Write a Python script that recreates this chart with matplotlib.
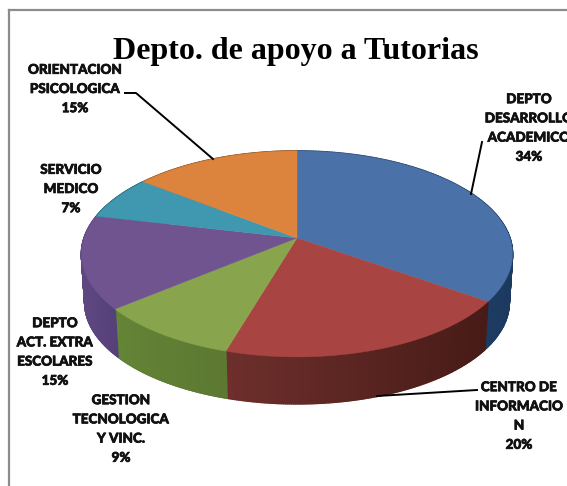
import numpy as np
import matplotlib
matplotlib.use('Agg')
import matplotlib.pyplot as plt
import matplotlib.patheffects as pe
from matplotlib.collections import PolyCollection
from matplotlib.colors import to_rgb

names = ['DEPTO\nDESARROLLO\nACADEMICO', 'CENTRO DE\nINFORMACIO\nN', 'GESTION\nTECNOLOGICA\nY VINC.',
         'DEPTO\nACT. EXTRA\nESCOLARES', 'SERVICIO\nMEDICO', 'ORIENTACION\nPSICOLOGICA']
percents = [34, 20, 9, 15, 7, 15]
# slice sizes as they are drawn in the picture, the printed numbers are rounded
shares = [34.8, 19.8, 9.4, 14.6, 6.9, 14.5]
top_colors = ['#4a72a8', '#a84542', '#88a44c', '#6f5490', '#3f98b0', '#dc843d']
side_left = ['#2a4a78', '#6e2f2c', '#648436', '#5f4880', '#2a6a7c', '#9a5c2a']
side_right = ['#1c3a5f', '#471b17', '#5c7832', '#56407a', '#2a6a7c', '#9a5c2a']

# label centre and leader line, in pixels
label_xy = [(529, 128), (519, 416), (121, 429), (55, 352), (71, 189), (75, 89)]
leaders = [[(482, 142), (471, 194)], [(477, 390), (377, 396)], None, None, None,
           [(125, 93), (136, 93), (213, 159)]]

# perspective of the pie
cx, cy = 297, 238
A, D, c = 100.5, 212.9, 0.155
depth = 49
shrink = 0.985


def project(theta, r=1.0, drop=0):
    u = r * np.sin(theta)
    v = r * np.cos(theta)
    w = 1 + c * v
    return cx + D * u / w, cy - A * v / w + drop


fig = plt.figure(figsize=(5.67, 4.86), dpi=100)
ax = fig.add_axes([0, 0, 1, 1])
ax.set_xlim(0, 567)
ax.set_ylim(486, 0)
ax.axis('off')

# frame
ax.plot([9, 9], [486, 10], color='#8c8c8c', lw=1.6)
ax.plot([9, 567], [10, 10], color='#8c8c8c', lw=1.6)

edges = np.cumsum([0] + shares) / sum(shares) * 2 * np.pi

# sides first, the top covers whatever is behind
for i in range(len(shares)):
    t = np.linspace(edges[i], edges[i + 1], 150)
    x1, y1 = project(t)
    x2, y2 = project(t, shrink, depth)
    polys = []
    cols = []
    lo = to_rgb(side_left[i])
    hi = to_rgb(side_right[i])
    for k in range(len(t) - 1):
        polys.append([(x1[k], y1[k]), (x1[k + 1], y1[k + 1]), (x2[k + 1], y2[k + 1]), (x2[k], y2[k])])
        # shade from the left end to the right end of the slice on screen
        f = (x1[k] - x1.min()) / (x1.max() - x1.min())
        cols.append(tuple(np.array(lo) * (1 - f) + np.array(hi) * f))
    ax.add_collection(PolyCollection(polys, facecolors=cols, edgecolors=cols, linewidths=1.2, zorder=2))

for i in range(len(shares)):
    t = np.linspace(edges[i], edges[i + 1], 120)
    x1, y1 = project(t)
    ax.fill(np.r_[cx, x1], np.r_[cy, y1], color=top_colors[i], lw=0.3, zorder=3)

ax.text(295.5, 51, 'Depto. de apoyo a Tutorias', family='Liberation Serif', weight='bold', fontsize=23,
        ha='center', va='center', color='black', zorder=5)

for i in range(len(names)):
    txt = ax.text(label_xy[i][0], label_xy[i][1], names[i] + '\n%d%%' % percents[i], family='Lato', weight='black',
                  fontsize=9.7, ha='center', va='center', linespacing=1.72, color='#111111', zorder=5)
    # the original face is heavier than what Lato gives
    txt.set_path_effects([pe.withStroke(linewidth=0.5, foreground='#111111')])
    if leaders[i] is not None:
        ax.plot([p[0] for p in leaders[i]], [p[1] for p in leaders[i]], color='black', lw=1.4, zorder=4)

fig.savefig('out.png', dpi=100)
